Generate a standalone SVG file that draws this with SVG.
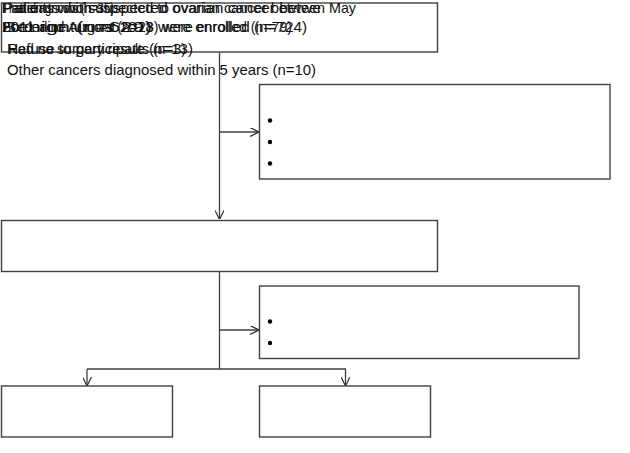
<svg xmlns="http://www.w3.org/2000/svg" width="630" height="453" viewBox="0 0 630 453">
<defs>
<style>
.box{fill:#fff;stroke:#404040;stroke-width:1.4}
.ln{fill:none;stroke:#404040;stroke-width:1.3}
.t{font-family:"Liberation Sans",Arial,sans-serif;font-size:15px;fill:#111}
.dot{fill:#000}
</style>
<marker id="ah" viewBox="0 0 10 10" refX="9.5" refY="5" markerWidth="9" markerHeight="9" orient="auto" markerUnits="userSpaceOnUse">
<path d="M0,0 L10,5 L0,10" fill="none" stroke="#303030" stroke-width="1.4"/>
</marker>
</defs>
<rect width="630" height="453" fill="#fff"/>
<g id="connectors">
<path class="ln" d="M219.5,52 V219" marker-end="url(#ah)"/>
<path class="ln" d="M219.5,132 H258.5" marker-end="url(#ah)"/>
<path class="ln" d="M219.5,272 V369"/>
<path class="ln" d="M219.5,330 H258.5" marker-end="url(#ah)"/>
<path class="ln" d="M87,369 H345.5 V385.5" marker-end="url(#ah)"/>
<path class="ln" d="M87,369 V385.5" marker-end="url(#ah)"/>
</g>
<g id="n_enrolled">
<rect class="box" x="1.5" y="3" width="436" height="49"/>
</g>
<g id="n_excluded1">
<rect class="box" x="259.5" y="84.5" width="350.5" height="94.5"/>
<circle class="dot" cx="270" cy="120.5" r="2.2"/>
<circle class="dot" cx="270" cy="142" r="2.2"/>
<circle class="dot" cx="270" cy="163.5" r="2.2"/>
</g>
<g id="n_included">
<rect class="box" x="1.5" y="220.5" width="436" height="51"/>
</g>
<g id="n_excluded2">
<rect class="box" x="259.5" y="286" width="319.5" height="72.5"/>
<circle class="dot" cx="270" cy="321.5" r="2.2"/>
<circle class="dot" cx="270" cy="343" r="2.2"/>
</g>
<g id="n_benign">
<rect class="box" x="1.5" y="386" width="171" height="51"/>
</g>
<g id="n_malignant">
<rect class="box" x="259.5" y="386" width="171" height="51"/>
</g>
<g id="texts">
<text class="t" x="2" y="13" textLength="354" lengthAdjust="spacingAndGlyphs">Patients who suspected to ovarian cancer between May</text>
<text class="t" x="3" y="13" textLength="318" lengthAdjust="spacingAndGlyphs">Patients with suspected ovarian cancer betwe</text>
<text class="t" x="2" y="13" textLength="112" lengthAdjust="spacingAndGlyphs">Final diagnosis (n=35)</text>
<text class="t" x="2" y="32" textLength="305" lengthAdjust="spacingAndGlyphs">2011 and August 2013 were enrolled (n=724)</text>
<text class="t" x="2" y="32" textLength="290" lengthAdjust="spacingAndGlyphs">Borderline tumors (n=28) were enrolled (n=79)</text>
<text class="t" x="2" y="32" textLength="150" lengthAdjust="spacingAndGlyphs">Benign (n=629)</text>
<text class="t" x="7" y="54" textLength="186" lengthAdjust="spacingAndGlyphs">Refuse to participate (n=13)</text>
<text class="t" x="8" y="54" textLength="178" lengthAdjust="spacingAndGlyphs">Had no surgery results (n=3)</text>
<text class="t" x="7" y="75" textLength="309" lengthAdjust="spacingAndGlyphs">Other cancers diagnosed within 5 years (n=10)</text>
</g>
</svg>
